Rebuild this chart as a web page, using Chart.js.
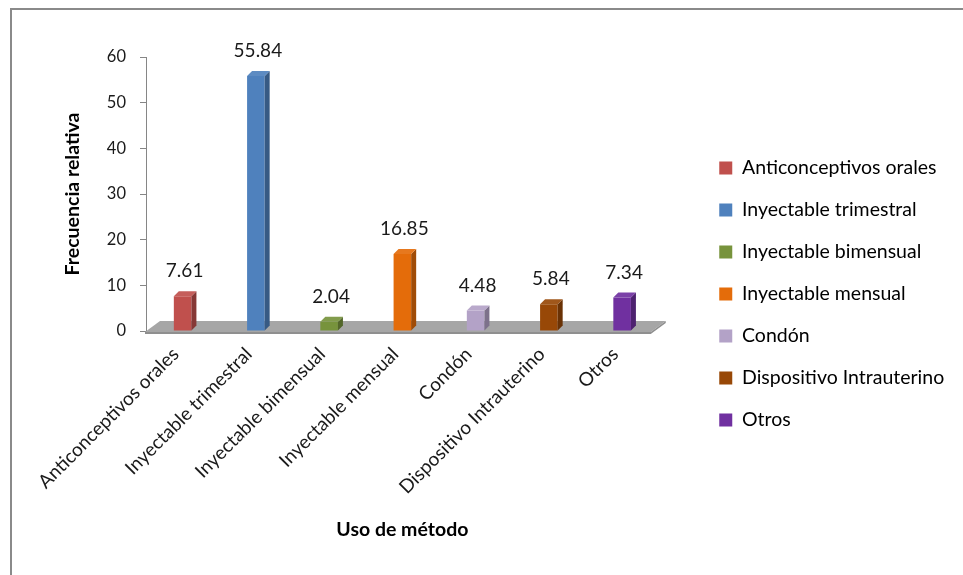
<!DOCTYPE html>
<html>
<head>
<meta charset="utf-8">
<script src="https://cdn.jsdelivr.net/npm/chart.js@4.4.0/dist/chart.umd.min.js"></script>
<style>
  html, body { margin: 0; padding: 0; background: #fff; }
  #wrap { position: relative; width: 963px; height: 575px; }
  #frame { position: absolute; left: 10px; top: 8px; right: 0; bottom: 0;
           border-left: 2px solid #8a8a8a; border-top: 2px solid #8a8a8a; pointer-events: none; }
</style>
</head>
<body>
<div id="wrap">
  <canvas id="grafico" width="963" height="575"></canvas>
  <div id="frame"></div>
</div>
<script>
// datos del gráfico
const categorias = ['Anticonceptivos orales', 'Inyectable trimestral', 'Inyectable bimensual',
    'Inyectable mensual', 'Condón', 'Dispositivo Intrauterino', 'Otros'];
const frecuencias = [7.61, 55.84, 2.04, 16.85, 4.48, 5.84, 7.34];
const colores = ['#C0504D', '#4F81BD', '#77933C', '#E46C0A', '#B3A2C7', '#984807', '#7030A0'];
const yMin = 0, yMax = 60, yPaso = 10;

const FUENTE = 'Lato, "Open Sans", sans-serif';
const PROF = 5; // profundidad del efecto 3D

function sombra(hex, k) {
    const n = parseInt(hex.slice(1), 16);
    let r = n >> 16, g = (n >> 8) & 255, b = n & 255;
    const t = k < 0 ? 0 : 255, p = Math.abs(k);
    r = Math.round(r + (t - r) * p);
    g = Math.round(g + (t - g) * p);
    b = Math.round(b + (t - b) * p);
    return `rgb(${r},${g},${b})`;
}

// piso gris en perspectiva
const pisoPlugin = {
    id: 'piso',
    beforeDatasetsDraw(chart) {
        const { ctx, chartArea, scales } = chart;
        const y0 = scales.y.getPixelForValue(0);
        const l = chartArea.left, r = chartArea.right;
        ctx.save();
        ctx.fillStyle = '#a6a6a6';
        ctx.beginPath();
        ctx.moveTo(l - 1, y0 + 1);
        ctx.lineTo(l + 14, y0 - 10);
        ctx.lineTo(r + 7, y0 - 10);
        ctx.lineTo(r - 8, y0 + 1);
        ctx.closePath();
        ctx.fill();
        ctx.fillStyle = '#8f8f8f';
        ctx.beginPath();
        ctx.moveTo(l - 1, y0 + 1);
        ctx.lineTo(r - 8, y0 + 1);
        ctx.lineTo(r + 7, y0 - 10);
        ctx.lineTo(r + 7, y0 - 8);
        ctx.lineTo(r - 8, y0 + 3);
        ctx.lineTo(l - 1, y0 + 3);
        ctx.closePath();
        ctx.fill();
        ctx.restore();
    }
};

// caras laterales, superiores y etiquetas de valor
const barras3dPlugin = {
    id: 'barras3d',
    afterDatasetsDraw(chart) {
        const { ctx } = chart;
        const meta = chart.getDatasetMeta(0);
        ctx.save();
        meta.data.forEach((bar, i) => {
            const { x, y, width, base } = bar.getProps(['x', 'y', 'width', 'base'], true);
            const l = x - width / 2, r = x + width / 2;
            ctx.fillStyle = sombra(colores[i], -0.3);
            ctx.beginPath();
            ctx.moveTo(r, y);
            ctx.lineTo(r + PROF, y - PROF);
            ctx.lineTo(r + PROF, base - PROF);
            ctx.lineTo(r, base);
            ctx.closePath();
            ctx.fill();
            ctx.fillStyle = sombra(colores[i], 0.08);
            ctx.beginPath();
            ctx.moveTo(l, y);
            ctx.lineTo(l + PROF, y - PROF);
            ctx.lineTo(r + PROF, y - PROF);
            ctx.lineTo(r, y);
            ctx.closePath();
            ctx.fill();

            ctx.font = '19px ' + FUENTE;
            ctx.fillStyle = '#1a1a1a';
            ctx.textAlign = 'center';
            ctx.textBaseline = 'middle';
            ctx.fillText(frecuencias[i].toFixed(2), x + 2, y - 25);
        });
        ctx.restore();
    }
};

// sube un poco la leyenda y le da espacio hasta el borde
const leyendaPlugin = {
    id: 'leyendaAjuste',
    afterLayout(chart) {
        const lg = chart.legend;
        lg.top -= 7;
        lg.bottom -= 7;
        lg.left -= 3;
        lg.right = chart.width - 5;
        lg.width = lg.right - lg.left;
    }
};

const ctx = document.getElementById('grafico').getContext('2d');
new Chart(ctx, {
    type: 'bar',
    data: {
        labels: categorias,
        datasets: [{
            label: 'Frecuencia relativa',
            data: frecuencias,
            backgroundColor: colores,
            borderWidth: 0,
            barPercentage: 0.24,
            categoryPercentage: 1
        }]
    },
    options: {
        responsive: false,
        animation: false,
        events: [],
        layout: { padding: { left: 57, top: 57, right: 49, bottom: 30 } },
        plugins: {
            tooltip: { enabled: false },
            legend: {
                position: 'right',
                labels: {
                    boxWidth: 13,
                    boxHeight: 13,
                    padding: 22.5,
                    color: '#1a1a1a',
                    font: { family: FUENTE, size: 19.5 },
                    generateLabels: () => categorias.map((c, i) => ({
                        text: c,
                        fillStyle: colores[i],
                        strokeStyle: colores[i],
                        lineWidth: 0,
                        hidden: false,
                        index: i,
                        datasetIndex: 0
                    }))
                }
            }
        },
        scales: {
            x: {
                grid: { display: false, drawTicks: false },
                border: { display: false },
                ticks: {
                    autoSkip: false,
                    minRotation: 45,
                    maxRotation: 45,
                    padding: 12,
                    labelOffset: -7,
                    color: '#1a1a1a',
                    font: { family: FUENTE, size: 19 }
                },
                title: {
                    display: true,
                    text: 'Uso de método',
                    color: '#000',
                    padding: { top: 4, bottom: 4 },
                    font: { family: FUENTE, size: 19.5, weight: 'bold' }
                },
                afterFit(s) { s.height = 214; }
            },
            y: {
                min: yMin,
                max: yMax,
                ticks: {
                    stepSize: yPaso,
                    padding: 14,
                    color: '#1a1a1a',
                    font: { family: FUENTE, size: 16.5 }
                },
                grid: { drawOnChartArea: false, tickLength: 6, color: '#868686' },
                border: { color: '#868686' },
                title: {
                    display: true,
                    text: 'Frecuencia relativa',
                    color: '#000',
                    padding: { top: 4, bottom: 4 },
                    font: { family: FUENTE, size: 19.5, weight: 'bold' }
                },
                afterFit(s) { s.width = 89; }
            },
            derecha: {
                type: 'linear',
                position: 'right',
                display: false,
                afterFit(s) { s.width = 41; }
            }
        }
    },
    plugins: [pisoPlugin, barras3dPlugin, leyendaPlugin]
});
</script>
</body>
</html>
